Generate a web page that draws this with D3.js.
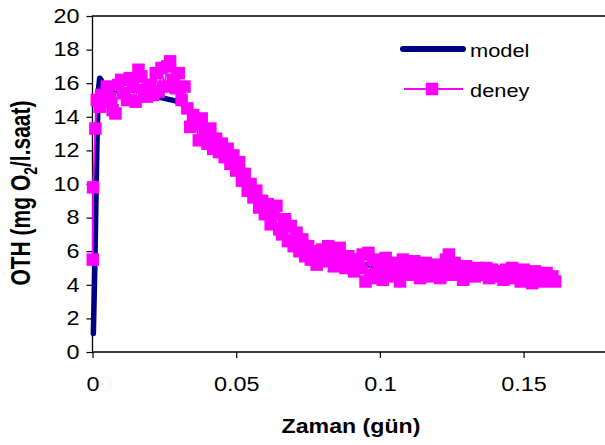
<!DOCTYPE html>
<html>
<head>
<meta charset="utf-8">
<script src="https://cdn.jsdelivr.net/npm/d3@7"></script>
<style>
    html, body { margin: 0; padding: 0; background: #fff; overflow: hidden; }
    svg { display: block; font-family: Arial, 'Liberation Sans', sans-serif; }
</style>
</head>
<body>
<svg id="chart" width="605" height="445"></svg>
<script>
// model curve (time in days, OTH in mg O2/l.h)
const modelT = [0.0003, 0.0008, 0.0015, 0.002, 0.0025, 0.003, 0.004, 0.006, 0.01, 0.015, 0.02, 0.025,
    0.03, 0.035, 0.04, 0.045, 0.05, 0.055, 0.06, 0.065, 0.07, 0.075, 0.08, 0.09, 0.1, 0.11, 0.12,
    0.13, 0.14, 0.15, 0.16];
const modelOTH = [1.1, 5, 12, 15.5, 16.3, 16.2, 15.7, 15.5, 15.6, 15.6, 15.3, 15.1,
    14.9, 14.3, 13.3, 12.2, 11, 9.5, 8.1, 7.1, 6.4, 6, 5.7, 5.3, 5.1, 5, 4.9,
    4.8, 4.7, 4.7, 4.6];

// experiment (deney)
const deneyT = [0.0001, 0.0002, 0.001, 0.0015, 0.0025,
    0.003, 0.004, 0.005, 0.006, 0.007, 0.008, 0.009, 0.010, 0.011, 0.012, 0.013, 0.014, 0.015,
    0.016, 0.017, 0.018, 0.019, 0.020, 0.021, 0.022, 0.023, 0.024, 0.025, 0.026, 0.027, 0.028,
    0.029, 0.030, 0.031, 0.032, 0.033, 0.034, 0.035, 0.036, 0.037, 0.038, 0.039, 0.040, 0.041,
    0.042, 0.043, 0.044, 0.045, 0.046, 0.047, 0.048, 0.049, 0.050, 0.051, 0.052, 0.053, 0.054,
    0.055, 0.056, 0.057, 0.058, 0.059, 0.060, 0.061, 0.062, 0.063, 0.064, 0.065, 0.066, 0.067,
    0.068, 0.069, 0.070, 0.071, 0.072, 0.073, 0.074, 0.075, 0.076, 0.077, 0.078, 0.079, 0.080,
    0.081, 0.082, 0.083, 0.084, 0.085, 0.086, 0.087, 0.088, 0.089, 0.090, 0.091, 0.092, 0.093,
    0.094, 0.095, 0.096, 0.097, 0.098, 0.099, 0.100, 0.101, 0.102, 0.103, 0.104, 0.105, 0.106,
    0.107, 0.108, 0.109, 0.110, 0.111, 0.112, 0.113, 0.114, 0.115, 0.116, 0.117, 0.118, 0.119,
    0.120, 0.121, 0.122, 0.123, 0.124, 0.125, 0.126, 0.127, 0.128, 0.129, 0.130, 0.131, 0.132,
    0.133, 0.134, 0.135, 0.136, 0.137, 0.138, 0.139, 0.140, 0.141, 0.142, 0.143, 0.144, 0.145,
    0.146, 0.147, 0.148, 0.149, 0.150, 0.151, 0.152, 0.153, 0.154, 0.155, 0.156, 0.157, 0.158,
    0.159, 0.160, 0.161];
const deneyOTH = [5.5, 9.8, 13.3, 15.0, 14.6,
    15.3, 14.9, 15.8, 15.1, 14.4, 14.2, 15.9, 16.2, 15.4, 15.0, 16.3, 15.8, 14.9,
    16.8, 16.4, 15.6, 15.2, 15.9, 15.3, 16.6, 15.5, 16.9, 15.8, 17.0, 17.3, 16.2,
    15.7, 16.6, 15.0, 15.8, 14.5, 13.4, 14.1, 13.6, 12.6, 13.9, 13.0, 12.4, 13.3,
    12.1, 12.7, 11.9, 12.4, 11.6, 12.1, 11.2, 11.7, 10.8, 11.3, 10.2, 10.6, 9.6,
    10.0, 9.2, 9.6, 8.6, 9.0, 8.2, 8.8, 7.6, 8.3, 8.7, 7.3, 7.0, 7.9,
    6.6, 7.5, 6.3, 7.1, 6.0, 6.7, 5.7, 6.3, 5.5, 6.0, 5.2, 5.8, 6.1,
    5.4, 6.3, 5.6, 5.1, 5.9, 6.2, 5.3, 5.0, 5.7, 5.2, 4.8, 5.5, 5.0,
    5.8, 4.2, 5.9, 4.6, 5.5, 4.4, 5.0, 4.3, 5.6, 4.8, 5.3, 4.5, 5.1,
    4.2, 5.5, 4.9, 5.2, 4.6, 5.4, 4.8, 4.4, 5.0, 5.3, 4.5, 5.1, 4.7,
    5.2, 4.4, 4.9, 5.5, 5.8, 4.6, 5.3, 4.8, 5.0, 4.3, 5.1, 4.7, 4.9,
    4.5, 5.0, 4.8, 4.6, 5.0, 4.4, 4.9, 4.7, 4.5, 4.8, 4.3, 4.9, 4.6,
    5.0, 4.4, 4.8, 4.2, 4.9, 4.5, 4.7, 4.1, 4.8, 4.4, 4.6, 4.2, 4.7,
    4.3, 4.5, 4.2];

const xTicks = [0, 0.05, 0.1, 0.15];
const yTicks = [0, 2, 4, 6, 8, 10, 12, 14, 16, 18, 20];
const seriesNames = ['model', 'deney'];

const NAVY = '#000080', PINK = '#ff00ff';
const SX = 1.2; // text in the reference is stretched horizontally
const W = 605;

const svg = d3.select('#chart');

const x = d3.scaleLinear().domain([0, 0.18]).range([92.5, 609.8]);
const y = d3.scaleLinear().domain([0, 20]).range([352, 16]);

// plot frame: left, bottom and top only (right side is cut off)
svg.append('path')
    .attr('d', `M${W},${y(20)}H${x(0)}V${y(0)}H${W}`)
    .attr('fill', 'none').attr('stroke', '#000').attr('stroke-width', 1.3);

// axes
let yAxis = svg.append('g')
    .attr('transform', `translate(${x(0)},0)`)
    .call(d3.axisLeft(y).tickValues(yTicks).tickSize(6).tickPadding(7).tickFormat(d3.format('d')));

let xAxis = svg.append('g')
    .attr('transform', `translate(0,${y(0)})`)
    .call(d3.axisBottom(x).tickValues(xTicks).tickSize(6).tickFormat(d => d === 0 ? '0' : String(d)));

[yAxis, xAxis].forEach(ax => {
    ax.select('.domain').remove();
    ax.selectAll('.tick line').attr('stroke-width', 1.2);
    ax.selectAll('text').attr('font-size', 19.5).attr('fill', '#000')
        .attr('font-family', 'Arial, Liberation Sans, sans-serif');
});

yAxis.selectAll('.tick text').each(function () {
    let t = d3.select(this);
    let tx = +t.attr('x');
    t.attr('x', 0).attr('transform', `translate(${tx},0) scale(${SX},1)`);
});
xAxis.selectAll('.tick text')
    .attr('y', 0).attr('dy', 0)
    .attr('transform', `translate(0,38.5) scale(${SX},1)`);

let modelData = modelT.map((t, i) => [t, modelOTH[i]]);
let deneyData = deneyT.map((t, i) => [t, deneyOTH[i]]);

let line = d3.line().x(d => x(d[0])).y(d => y(d[1]));

// model line
svg.append('path')
    .datum(modelData)
    .attr('d', line)
    .attr('fill', 'none')
    .attr('stroke', NAVY)
    .attr('stroke-width', 5.5)
    .attr('stroke-linejoin', 'round')
    .attr('stroke-linecap', 'round');

// deney line + square markers
svg.append('path')
    .datum(deneyData)
    .attr('d', line)
    .attr('fill', 'none')
    .attr('stroke', PINK)
    .attr('stroke-width', 1.8);

let ms = 12.5;
svg.append('g')
    .selectAll('rect')
    .data(deneyData)
    .enter()
    .append('rect')
    .attr('x', d => x(d[0]) - ms / 2)
    .attr('y', d => y(d[1]) - ms / 2)
    .attr('width', ms)
    .attr('height', ms)
    .attr('fill', PINK);

// axis titles
svg.append('text')
    .attr('transform', `translate(351,433) scale(1.13,1)`)
    .attr('text-anchor', 'middle')
    .attr('font-size', 20.5)
    .attr('font-weight', 'bold')
    .text('Zaman (gün)');

let yTitle = svg.append('text')
    .attr('transform', `translate(30,193) scale(1.3,1) rotate(-90)`)
    .attr('text-anchor', 'middle')
    .attr('font-size', 21)
    .attr('font-weight', 'bold');
yTitle.append('tspan').text('OTH (mg O');
yTitle.append('tspan').attr('font-size', 14).attr('dy', 5).text('2');
yTitle.append('tspan').attr('dy', -5).text('/l.saat)');

// legend
let legend = svg.append('g');
legend.append('line')
    .attr('x1', 403).attr('x2', 463).attr('y1', 49).attr('y2', 49)
    .attr('stroke', NAVY).attr('stroke-width', 6).attr('stroke-linecap', 'round');
legend.append('line')
    .attr('x1', 404).attr('x2', 463).attr('y1', 89).attr('y2', 89)
    .attr('stroke', PINK).attr('stroke-width', 1.8);
legend.append('rect')
    .attr('x', 432 - ms / 2).attr('y', 89 - ms / 2)
    .attr('width', ms).attr('height', ms).attr('fill', PINK);

legend.selectAll('text.leg')
    .data(seriesNames)
    .enter()
    .append('text')
    .attr('class', 'leg')
    .attr('transform', (d, i) => `translate(470,${56.5 + i * 40}) scale(1.18,1)`)
    .attr('font-size', 18.5)
    .text(d => d);
</script>
</body>
</html>
